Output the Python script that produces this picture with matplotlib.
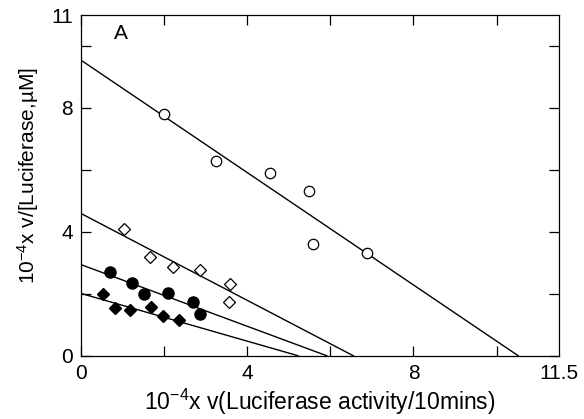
import matplotlib
matplotlib.use("Agg")
import matplotlib.pyplot as plt

plt.rcParams['font.family'] = ['Liberation Sans', 'DejaVu Sans']
plt.rcParams['mathtext.fontset'] = 'custom'
plt.rcParams['mathtext.rm'] = 'Liberation Sans'
plt.rcParams['mathtext.it'] = 'Liberation Sans:italic'
plt.rcParams['mathtext.default'] = 'regular'

# open circles
oc_x = [2.0, 3.25, 4.55, 5.48, 5.59, 6.89]
oc_y = [7.82, 6.29, 5.90, 5.31, 3.62, 3.33]
# open diamonds
od_x = [1.04, 1.66, 2.22, 2.85, 3.58, 3.57]
od_y = [4.08, 3.19, 2.87, 2.76, 2.33, 1.74]
# filled circles
fc_x = [0.70, 1.22, 1.52, 2.09, 2.70, 2.86]
fc_y = [2.69, 2.35, 1.98, 2.01, 1.74, 1.36]
# filled diamonds
fd_x = [0.52, 0.82, 1.18, 1.68, 1.98, 2.36]
fd_y = [1.98, 1.55, 1.49, 1.58, 1.28, 1.15]

# fitted lines: y intercept, x intercept
y_int = [9.54, 4.59, 2.94, 2.01]
x_int = [10.52, 6.55, 5.91, 5.22]

xticks = [0, 2, 4, 6, 8, 10, 11.5]
xtick_labels = ['0', '', '4', '', '8', '', '11.5']
yticks = [0, 2, 4, 6, 8, 10, 11]
ytick_labels = ['0', '', '4', '', '8', '', '11']

fig = plt.figure(figsize=(5.84, 4.19), dpi=100)
ax = fig.add_axes([0.139, 0.151, 0.818, 0.813])

for yi, xi in zip(y_int, x_int):
    ax.plot([0, xi], [yi, 0], color='black', lw=1.0)

ax.plot(oc_x, oc_y, 'o', ms=7.5, mfc='white', mec='black', mew=0.9)
ax.plot(od_x, od_y, 'D', ms=6.5, mfc='white', mec='black', mew=0.9)
ax.plot(fc_x, fc_y, 'o', ms=8, mfc='black', mec='black')
ax.plot(fd_x, fd_y, 'D', ms=6.5, mfc='black', mec='black')

ax.set_xlim(0, 11.5)
ax.set_ylim(0, 11)
ax.set_xticks(xticks)
ax.set_xticklabels(xtick_labels)
ax.set_yticks(yticks)
ax.set_yticklabels(ytick_labels)
ax.tick_params(direction='in', length=7.5, width=0.9, top=True, right=True,
               labelsize=15, pad=6)
# hide tick marks at the axis ends
for t in ax.xaxis.get_major_ticks()[-1:] + ax.yaxis.get_major_ticks()[-1:]:
    t.tick1line.set_visible(False)
    t.tick2line.set_visible(False)
for s in ax.spines.values():
    s.set_linewidth(0.9)

ax.text(0.083, 0.945, 'A', transform=ax.transAxes, fontsize=15,
        ha='center', va='center')

ax.set_xlabel('10$^{-4}$x v(Luciferase activity/10mins)', fontsize=16.5, labelpad=3)
ax.set_ylabel('10$^{-4}$x v/[Luciferase,\u00b5M]', fontsize=15)
ax.yaxis.set_label_coords(-0.085, 0.53)

fig.savefig('out.png', dpi=100)
